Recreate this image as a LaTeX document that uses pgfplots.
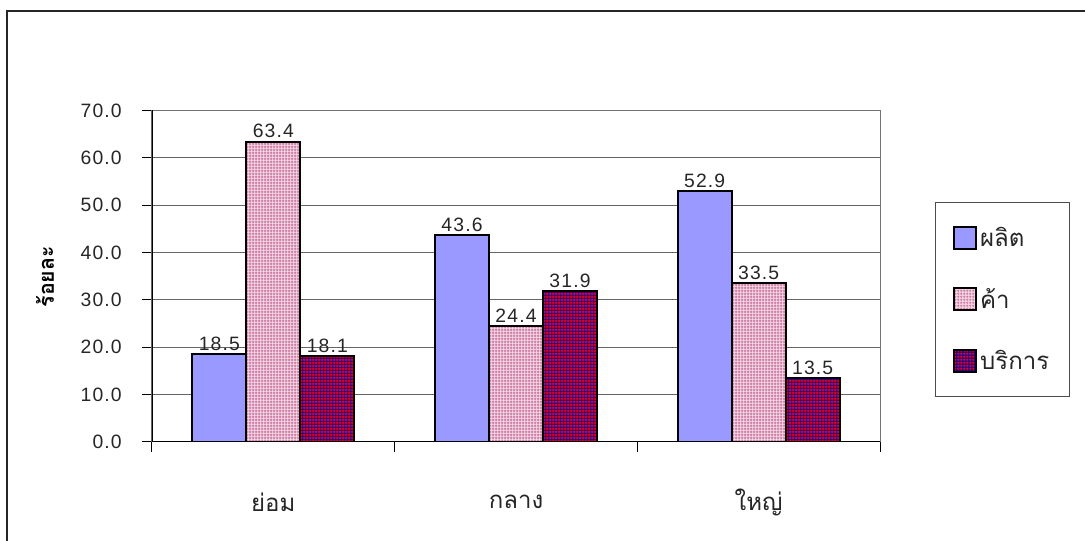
\documentclass[border=0pt]{standalone}
\usepackage{fontspec}
\setmainfont{Liberation Sans}
\newfontfamily\thai[Script=Thai]{Loma}
\newfontfamily\num[LetterSpace=6]{Liberation Sans}
\usepackage{pgfplots}
\pgfplotsset{compat=1.18}
\usetikzlibrary{patterns}
\definecolor{cblue}{RGB}{153,153,255}
\definecolor{cpinkbg}{RGB}{242,214,228}
\definecolor{cpinkln}{RGB}{204,120,160}
\definecolor{credbg}{RGB}{30,0,150}
\definecolor{credln}{RGB}{255,0,0}
\pgfdeclarepatternformonly{finegrid}{\pgfpointorigin}{\pgfpoint{2.25pt}{2.25pt}}{\pgfpoint{2.25pt}{2.25pt}}{%
  \pgfsetlinewidth{0.8pt}%
  \pgfpathmoveto{\pgfpoint{0pt}{1.125pt}}\pgfpathlineto{\pgfpoint{2.25pt}{1.125pt}}%
  \pgfpathmoveto{\pgfpoint{1.125pt}{0pt}}\pgfpathlineto{\pgfpoint{1.125pt}{2.25pt}}%
  \pgfusepath{stroke}}
\begin{document}
\begin{tikzpicture}
\useasboundingbox (0,0) rectangle (813.75pt,405.75pt);
\draw[black!85, line width=0.9pt] (5.25pt,0) -- (5.25pt,397.5pt) -- (813.75pt,397.5pt);
\begin{axis}[
  at={(114pt,74.25pt)}, anchor=south west,
  scale only axis, width=546pt, height=248.7pt,
  xmin=-0.5, xmax=2.5, ymin=0, ymax=70,
  ytick={0,10,...,70},
  yticklabel style={/pgf/number format/fixed, /pgf/number format/fixed zerofill, /pgf/number format/precision=1, /pgf/number format/assume math mode=true, font=\num\fontsize{14.5}{17}\selectfont, text=black!85, anchor=east, inner sep=0pt, xshift=-15pt},
  xtick={-0.5,0.5,1.5,2.5}, xticklabels={,,,},
  extra x ticks={0,1,2},
  extra x tick labels={ย่อม,กลาง,ใหญ่},
  extra x tick style={major tick length=0pt, grid=none, xticklabel style={font=\thai\fontsize{18}{21}\selectfont, text=black!85, anchor=center, yshift=-45pt}},
  ymajorgrids, major grid style={black!60, line width=0.75pt},
  tick align=outside, major tick length=7.5pt,
  xtick pos=bottom, ytick pos=left,
  tick style={black, line width=0.75pt},
  axis line style={black!55, line width=0.75pt},
  ylabel={\thai\bfseries ร้อยละ},
  ylabel style={at={(axis description cs:-0.147,0.4985)}, anchor=center, font=\fontsize{16}{19}\selectfont},
  ybar=0pt, bar width=0.2225,
  nodes near coords,
  every node near coord/.append style={font=\num\fontsize{14.5}{17}\selectfont, text=black!85, anchor=south, inner sep=2pt, /pgf/number format/fixed, /pgf/number format/fixed zerofill, /pgf/number format/precision=1, /pgf/number format/assume math mode=true},
  legend style={at={(axis description cs:1.0755,0.7247)}, anchor=north west, draw=black!70, line width=0.75pt, fill=white, inner xsep=13.5pt, inner ysep=16.75pt, row sep=26pt, font=\thai\fontsize{18}{21}\selectfont, text=black!85, cells={anchor=west}, /tikz/every even column/.append style={column sep=6.75pt}},
  legend image code/.code={\draw[#1] (0pt,-8.25pt) rectangle (16.5pt,8.25pt);},
]
\addplot[fill=cblue, draw=black, line width=1.5pt, bar shift=-0.2225] coordinates {(0,18.5) (1,43.6) (2,52.9)};
\addplot[fill=cpinkbg, draw=black, line width=1.5pt, bar shift=0, postaction={pattern=finegrid, pattern color=cpinkln}] coordinates {(0,63.4) (1,24.4) (2,33.5)};
\addplot[fill=credbg, draw=black, line width=1.5pt, bar shift=0.2225, postaction={pattern=finegrid, pattern color=credln}] coordinates {(0,18.1) (1,31.9) (2,13.5)};
\legend{ผลิต,ค้า,บริการ}
\draw[black, line width=0.9pt] (rel axis cs:0,0) -- (rel axis cs:0,1);
\draw[black, line width=0.9pt] (rel axis cs:0,0) -- (rel axis cs:1,0);
\end{axis}
\end{tikzpicture}
\end{document}
